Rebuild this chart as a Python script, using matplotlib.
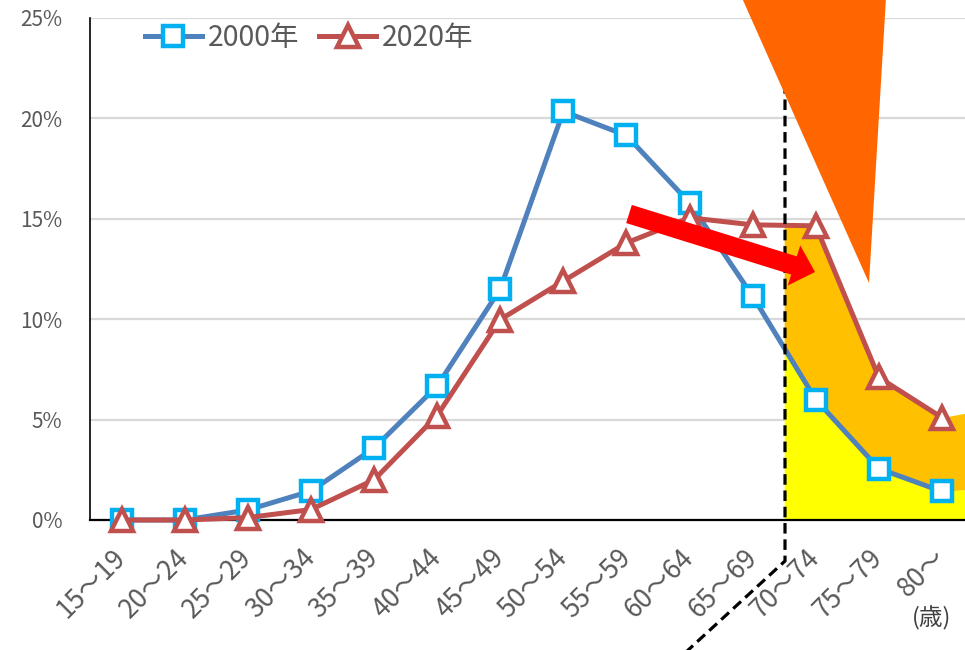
import numpy as np
import matplotlib
matplotlib.use("Agg")
import matplotlib.pyplot as plt
from matplotlib.patches import Polygon
from matplotlib.lines import Line2D

plt.rcParams['font.family'] = ['Noto Sans CJK JP', 'DejaVu Sans']

# ---- data -------------------------------------------------------------
age_groups = ["15～19", "20～24", "25～29", "30～34", "35～39", "40～44", "45～49",
              "50～54", "55～59", "60～64", "65～69", "70～74", "75～79", "80～"]
share_2000 = [0.0, 0.0, 0.5, 1.44, 3.58, 6.67, 11.5, 20.35, 19.15, 15.8, 11.15, 6.0, 2.56, 1.42]
share_2020 = [0.0, 0.0, 0.12, 0.52, 2.0, 5.2, 9.98, 11.9, 13.8, 15.05, 14.7, 14.65, 7.1, 5.1]
series_labels = ["2000年", "2020年"]
ytick_values = [0, 5, 10, 15, 20, 25]
ytick_labels = ["0%", "5%", "10%", "15%", "20%", "25%"]
unit_label = "(歳)"

# shaded "70+" band: starts between 65～69 and 70～74, runs to the right edge
shade_start = 10.5
shade_end = 13.5
shade_edge_2000 = 1.55
shade_edge_2020 = 5.4

# ---- figure -----------------------------------------------------------
W, H = 965, 650
fig = plt.figure(figsize=(W / 100, H / 100), dpi=100)
ax = fig.add_axes([90 / W, 1 - 520 / H, (973.5 - 90) / W, (520 - 18) / H])

x = np.arange(len(age_groups))
ax.set_xlim(-0.5, len(age_groups) - 0.5)
ax.set_ylim(0, 25)

# grid
ax.set_yticks(ytick_values)
ax.set_yticklabels(ytick_labels)
ax.yaxis.grid(True, color="#D9D9D9", linewidth=1.6, zorder=0)
ax.set_axisbelow(True)
for s in ("top", "right"):
    ax.spines[s].set_visible(False)
ax.spines["left"].set_color("#000000")
ax.spines["left"].set_linewidth(1.2)
ax.spines["bottom"].set_color("#000000")
ax.spines["bottom"].set_linewidth(1.6)
ax.tick_params(axis="both", length=0, colors="#595959")
ax.tick_params(axis="y", labelsize=15, pad=20)

ax.set_xticks(x)
ax.set_xticklabels(age_groups, rotation=45, ha="right", va="center",
                   rotation_mode="anchor", fontsize=19, color="#595959")
ax.tick_params(axis="x", pad=24)

# shaded band for the 70+ groups
s2000 = np.asarray(share_2000)
s2020 = np.asarray(share_2020)
idx = x[x > shade_start]
xs = np.concatenate([[shade_start], idx, [shade_end]])
low = np.concatenate([[np.interp(shade_start, x, s2000)], s2000[idx], [shade_edge_2000]])
high = np.concatenate([[np.interp(shade_start, x, s2020)], s2020[idx], [shade_edge_2020]])
ax.fill_between(xs, 0, low, color="#FFFF00", linewidth=0, zorder=1)
ax.fill_between(xs, low, high, color="#FFC000", linewidth=0, zorder=1)

# series
ax.plot(x, share_2000, color="#4F81BD", linewidth=3.6, marker="s", markersize=14.5,
        markerfacecolor="white", markeredgecolor="#00B0F0", markeredgewidth=3.2,
        label=series_labels[0], zorder=4, clip_on=False)
ax.plot(x, share_2020, color="#C0504D", linewidth=3.6, marker="^", markersize=16,
        markerfacecolor="white", markeredgecolor="#C0504D", markeredgewidth=3.2,
        label=series_labels[1], zorder=5, clip_on=False)

leg = ax.legend(loc="center left", bbox_to_anchor=(145 / W, 1 - 38 / H),
                bbox_transform=fig.transFigure, ncol=2, frameon=False,
                fontsize=20.5, handlelength=2.0, handletextpad=0.2,
                columnspacing=0.7, borderpad=0, borderaxespad=0, numpoints=1)
for t in leg.get_texts():
    t.set_color("#595959")


def px(points):
    """Convert pixel coordinates (origin top-left) to figure fractions."""
    p = np.asarray(points, dtype=float)
    return np.column_stack([p[:, 0] / W, 1 - p[:, 1] / H])


# dashed divider
dash = Line2D(*px([(785, 18), (785, 561), (686, 652)]).T, transform=fig.transFigure,
              color="black", linewidth=2.3, linestyle=(0, (3.3, 1.8)), zorder=6)
fig.add_artist(dash)

# red arrow
tail = np.array([629.0, 214.0])
tip = np.array([815.0, 272.0])
u = (tip - tail) / np.linalg.norm(tip - tail)
n = np.array([-u[1], u[0]])
sw, hw, hl = 9.5, 21.0, 22.0
neck = tip - u * hl
arrow_pts = [tail + n * sw, neck + n * sw, neck + n * hw, tip,
             neck - n * hw, neck - n * sw, tail - n * sw]
fig.add_artist(Polygon(px(arrow_pts), closed=True, transform=fig.transFigure,
                       facecolor="#FF0000", edgecolor="none", zorder=7))

# orange wedge
fig.add_artist(Polygon(px([(742, -2), (886, -2), (869, 283)]), closed=True,
                       transform=fig.transFigure, facecolor="#FF6600",
                       edgecolor="none", zorder=8))

# unit label
fig.text(932 / W, 1 - 618 / H, unit_label, ha="center", va="center",
         fontsize=17, color="#404040")

fig.savefig("out.png", dpi=100)
